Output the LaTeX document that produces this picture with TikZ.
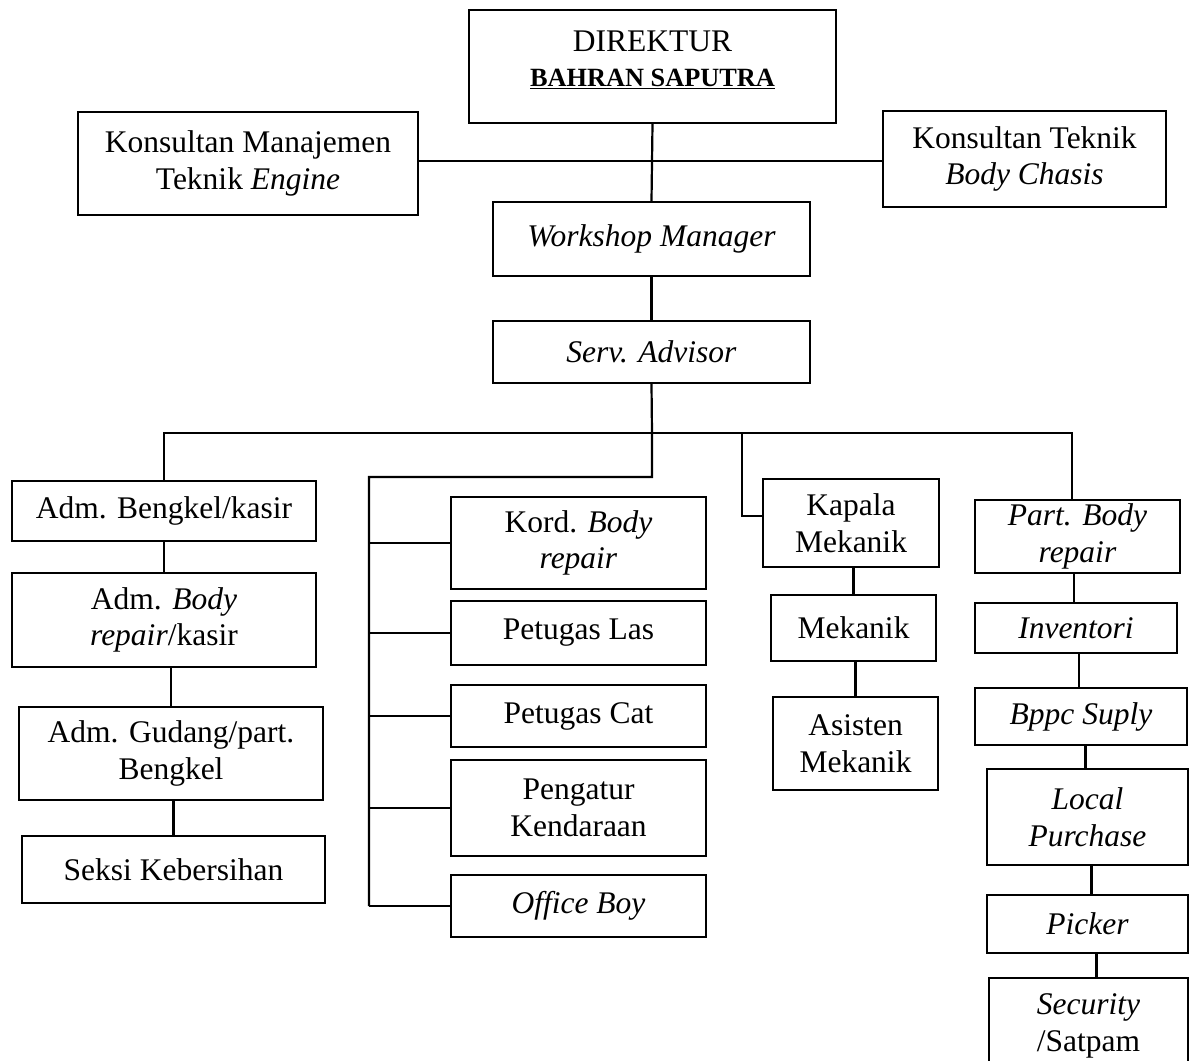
\documentclass[tikz,border=0pt]{standalone}
\usepackage{fontspec}
\setmainfont{Liberation Serif}
\usepackage{tikz}
\usetikzlibrary{positioning,calc}

\begin{document}
\begin{tikzpicture}[x=1pt,y=-1pt,line width=2.2pt,
  orgbox/.style={draw,inner sep=0pt,align=center,
    font=\fontsize{31.5}{36.5}\selectfont},
  conn/.style={line width=2.2pt}]
\useasboundingbox (0,0) rectangle (1195,1061);
% top level
\node[orgbox,minimum width=367,minimum height=113,text depth=16pt] (dir) at (652.5,66.5)
  {DIREKTUR\\[-2pt]{\fontsize{26.3}{30}\selectfont\textbf{\underline{BAHRAN SAPUTRA}}}};
\node[orgbox,minimum width=340,minimum height=103] (kme) at (248,163.5)
  {Konsultan Manajemen\\Teknik \textit{Engine}};
\node[orgbox,minimum width=283,minimum height=96] (kte) at (1024.5,159)
  {Konsultan Teknik\\\textit{Body Chasis}};
\node[orgbox,minimum width=317,minimum height=74] (wm) at (651.5,239) {\textit{Workshop Manager}};
\node[orgbox,minimum width=317,minimum height=62] (sa) at (651.5,352) {\textit{Serv. Advisor}};

\coordinate (kline) at (652,161);
\coordinate (bus) at (652,433);
\coordinate (mtop) at (369,477);
\coordinate (mdrop) at (742,516);
\coordinate (pdrop) at (1072,433);

\draw[conn] (kme.east |- kline) -- (kte.west |- kline);
\draw[conn] (dir.south) -- (wm.north);
\draw[conn] (wm.south) -- (sa.north);

% left column
\node[orgbox,minimum width=304,minimum height=60] (bk) at (164,511) {Adm. Bengkel/kasir};
\node[orgbox,minimum width=304,minimum height=94] (abr) at (164,620)
  {Adm. \textit{Body}\\\textit{repair}/kasir};
\node[orgbox,minimum width=304,minimum height=93] (agd) at (171,753.5)
  {Adm. Gudang/part.\\Bengkel};
\node[orgbox,minimum width=303,minimum height=67] (sk) at (173.5,869.5) {Seksi Kebersihan};

% middle group
\node[orgbox,minimum width=255,minimum height=92] (kbr) at (578.5,543)
  {Kord. \textit{Body}\\\textit{repair}};
\node[orgbox,minimum width=255,minimum height=64] (las) at (578.5,633) {Petugas Las};
\node[orgbox,minimum width=255,minimum height=62] (cat) at (578.5,716) {Petugas Cat};
\node[orgbox,minimum width=255,minimum height=96] (pk) at (578.5,808) {Pengatur\\Kendaraan};
\node[orgbox,minimum width=255,minimum height=62] (ob) at (578.5,906) {\textit{Office Boy}};

% mekanik
\node[orgbox,minimum width=176,minimum height=88] (km) at (851,523) {Kapala\\Mekanik};
\node[orgbox,minimum width=165,minimum height=66] (mk) at (853.5,628) {Mekanik};
\node[orgbox,minimum width=165,minimum height=93] (as) at (855.5,743.5) {Asisten\\Mekanik};

% part
\node[orgbox,minimum width=205,minimum height=73] (pb) at (1077.5,536.5)
  {\textit{Part. Body}\\\textit{repair}};
\node[orgbox,minimum width=202,minimum height=50] (inv) at (1076,628) {\textit{Inventori}};
\node[orgbox,minimum width=212,minimum height=57] (bp) at (1081,716.5) {\textit{Bppc Suply}};
\node[orgbox,minimum width=201,minimum height=96] (lp) at (1087.5,817)
  {\textit{Local}\\\textit{Purchase}};
\node[orgbox,minimum width=201,minimum height=58] (pi) at (1087.5,924) {\textit{Picker}};
\node[orgbox,minimum width=199,minimum height=96] (sec) at (1088.5,1026)
  {\textit{Security}\\/Satpam};

% bus
\draw[conn] (sa.south) -- (bus) -- (bus |- mtop) -- (mtop) -- (mtop |- ob.west);
\draw[conn] (bk.north) -- (bk.north |- bus) -- (pdrop) -- (pdrop |- pb.north);
\draw[conn] (mdrop |- bus) -- (mdrop) -- (mdrop -| km.west);
\foreach \n in {kbr,las,cat,pk,ob}
  \draw[conn] (\n.west) -- (\n.west -| mtop);

% chains
\draw[conn] (abr.north) -- (abr.north |- bk.south);
\draw[conn] (agd.north) -- (agd.north |- abr.south);
\draw[conn] (sk.north) -- (sk.north |- agd.south);
\draw[conn] (mk.north) -- (mk.north |- km.south);
\draw[conn] (as.north) -- (as.north |- mk.south);
\draw[conn] ([xshift=-2]inv.north) -- ([xshift=-2]inv.north |- pb.south);
\draw[conn] ([xshift=-2]bp.north) -- ([xshift=-2]bp.north |- inv.south);
\draw[conn] ([xshift=-2]lp.north) -- ([xshift=-2]lp.north |- bp.south);
\draw[conn] ([xshift=4]pi.north) -- ([xshift=4]pi.north |- lp.south);
\draw[conn] ([xshift=8]sec.north) -- ([xshift=8]sec.north |- pi.south);
\end{tikzpicture}
\end{document}
